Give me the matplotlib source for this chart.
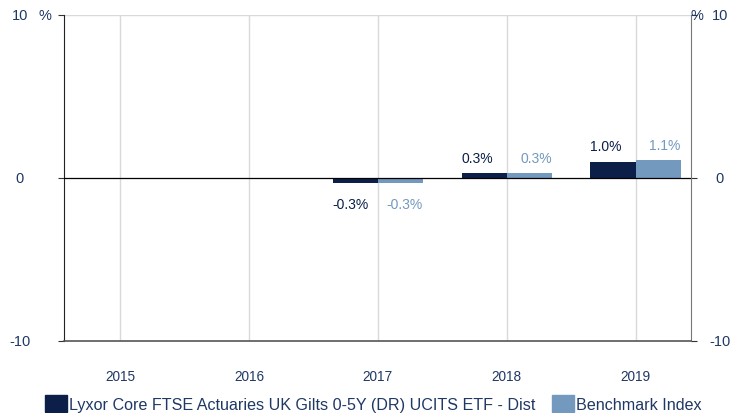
import matplotlib
matplotlib.use("Agg")
import matplotlib.pyplot as plt
import matplotlib.transforms as mtransforms
from matplotlib.patches import Patch
import numpy as np

years = ["2015", "2016", "2017", "2018", "2019"]
fund = [None, None, -0.3, 0.3, 1.0]
bench = [None, None, -0.3, 0.3, 1.1]
fund_name = "Lyxor Core FTSE Actuaries UK Gilts 0-5Y (DR) UCITS ETF - Dist"
bench_name = "Benchmark Index"
yticks = [-10, 0, 10]

dark = "#0b1f48"
light = "#7399bf"
txt = "#1f3864"

plt.rcParams['font.family'] = ['Liberation Sans', 'DejaVu Sans']

fig = plt.figure(figsize=(7.32, 4.14), dpi=100)
ax = fig.add_axes([64/732, 72/414, 627/732, 326/414])

x = np.arange(len(years))
w = 0.35
for i in range(len(years)):
    if fund[i] is not None:
        ax.bar(x[i] - w/2, fund[i], width=w, color=dark, zorder=3)
        va = 'bottom' if fund[i] >= 0 else 'top'
        off = 6 if fund[i] >= 0 else -10
        ax.annotate(f"{fund[i]:.1f}%", (x[i] - w, fund[i]), xytext=(0, off),
                    textcoords='offset points', ha='left', va=va, fontsize=10, color=dark)
    if bench[i] is not None:
        ax.bar(x[i] + w/2, bench[i], width=w, color=light, zorder=3)
        va = 'bottom' if bench[i] >= 0 else 'top'
        off = 6 if bench[i] >= 0 else -10
        ax.annotate(f"{bench[i]:.1f}%", (x[i] + w, bench[i]), xytext=(0, off),
                    textcoords='offset points', ha='right', va=va, fontsize=10, color=light)

ax.set_xlim(-0.435, 4.43)
ax.set_ylim(-10, 10)
for xi in x:
    ax.axvline(xi, color="#d9d9d9", lw=1, zorder=1)
ax.axhline(10, color="#d9d9d9", lw=1, zorder=1)
ax.axhline(0, color="black", lw=0.9, zorder=4)

ax.set_xticks(x)
ax.set_xticklabels(years, fontsize=9.8, color=txt)
ax.tick_params(axis='x', length=0, pad=20)
ax.set_yticks(yticks)
ax.set_yticklabels([])
ax.tick_params(axis='y', length=4, color="#333333", left=True, right=True)

ax.spines['top'].set_visible(False)
ax.spines['left'].set_color("#222222")
ax.spines['right'].set_color("#777777")
ax.spines['bottom'].set_color("#555555")
ax.spines['bottom'].set_linewidth(1.2)

tr = mtransforms.blended_transform_factory(fig.transFigure, ax.transData)
for v in yticks:
    fig.text(20/732, v, f"{v}", transform=tr, ha='center', va='center', fontsize=10.5, color=txt)
    fig.text(720/732, v, f"{v}", transform=tr, ha='center', va='center', fontsize=10.5, color=txt)
fig.text(45/732, 10, "%", transform=tr, ha='center', va='center', fontsize=10.5, color=txt)
fig.text(697/732, 10, "%", transform=tr, ha='center', va='center', fontsize=10.5, color=txt)

handles = [Patch(color=dark), Patch(color=light)]
fig.legend(handles, [fund_name, bench_name], loc='lower center', bbox_to_anchor=(0.51, -0.02),
           ncol=2, frameon=False, fontsize=11.6, handlelength=1.37, handleheight=1.25,
           handletextpad=0.12, columnspacing=1.0, labelcolor=txt, borderaxespad=0.2)

fig.savefig("out.png", dpi=100)
